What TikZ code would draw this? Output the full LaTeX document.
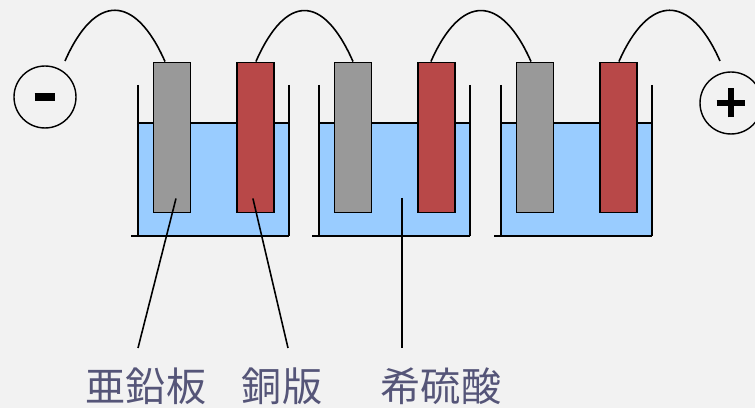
\documentclass[tikz,border=0pt]{standalone}
\usepackage{fontspec}
\newfontfamily\jpfont{Noto Sans CJK JP}
\usepackage{xcolor}
\definecolor{paper}{RGB}{242,242,242}
\definecolor{acid}{RGB}{153,204,255}
\definecolor{zinc}{RGB}{153,153,153}
\definecolor{copper}{RGB}{184,72,72}
\definecolor{labelink}{RGB}{85,85,120}
\usetikzlibrary{positioning,calc}
\tikzset{
  zn_plate/.style={rectangle,draw=black,fill=zinc,line width=1.1pt,
    minimum width=0.74cm,minimum height=3.0cm,inner sep=0pt},
  cu_plate/.style={zn_plate,fill=copper},
  term/.style={circle,draw=black,fill=paper,line width=0.8pt,minimum size=1.24cm,inner sep=0pt},
  wire/.style={line width=0.9pt},
  lead/.style={line width=0.9pt},
  glass/.style={line width=1.1pt},
  tag/.style={font=\jpfont\fontsize{22.8}{27}\selectfont,text=labelink,inner sep=0pt,anchor=base},
}

\begin{document}
\begin{tikzpicture}[x=0.02cm,y=-0.02cm]
  \useasboundingbox (0,0) rectangle (755,408);
  \clip (0,0) rectangle (755,408);
  \fill[paper] (0,0) rectangle (755,408);
  % three beakers of dilute acid
  \foreach \bx in {138,319,501}{
    \fill[acid] (\bx,123) rectangle (\bx+151,236);
    \draw[glass] (\bx,123) -- (\bx+151,123);
    \draw[glass] (\bx,85) -- (\bx,236);
    \draw[glass] (\bx+151,85) -- (\bx+151,236);
    \draw[glass] (\bx-7,236) -- (\bx+151,236);
  }
  % plates
  \node (g1)[zn_plate] at (172,137.5) {};
  \node (r1)[cu_plate,right=0.9cm of g1] {};
  \node (g2)[zn_plate] at (353,137.5) {};
  \node (r2)[cu_plate,right=0.9cm of g2] {};
  \node (g3)[zn_plate] at (535,137.5) {};
  \node (r3)[cu_plate,right=0.9cm of g3] {};
  % terminals
  \node (neg)[term] at (45,97) {\rule[-0.08cm]{0.42cm}{0.16cm}};
  \node (pos)[term] at (731,103)
    {\rule[-0.06cm]{0.58cm}{0.12cm}\llap{\rule[-0.29cm]{0.12cm}{0.58cm}\hspace{0.23cm}}};
  \coordinate (neg_end) at (65,61);
  \coordinate (pos_end) at (720,61);
  % wires between cells
  \draw[wire] (neg_end) .. controls +(30,-68) and +(-30,-68) .. ($(g1.north)+(-7,0)$);
  \draw[wire] (r1.north) .. controls +(30,-68) and +(-30,-68) .. (g2.north);
  \draw[wire] ($(r2.north)+(-6,0)$) .. controls +(30,-68) and +(-30,-68) .. ($(g3.north)+(-4,0)$);
  \draw[wire] (r3.north) .. controls +(30,-68) and +(-30,-68) .. (pos_end);
  % labels
  \node (zn_lbl)[tag] at (146,402) {亜鉛板};
  \node (cu_lbl)[tag] at (282,402) {銅版};
  \node (acid_lbl)[tag] at (441,402) {希硫酸};
  \coordinate (zn_tip) at (138,348);
  \coordinate (cu_tip) at (288,348);
  \coordinate (acid_pt) at (402,198);
  \coordinate (acid_tip) at (402,348);
  \draw[lead] ($(g1.south)+(4,-15)$) -- (zn_tip);
  \draw[lead] ($(r1.south)+(-3,-15)$) -- (cu_tip);
  \draw[lead] (acid_pt) -- (acid_tip);
\end{tikzpicture}
\end{document}
